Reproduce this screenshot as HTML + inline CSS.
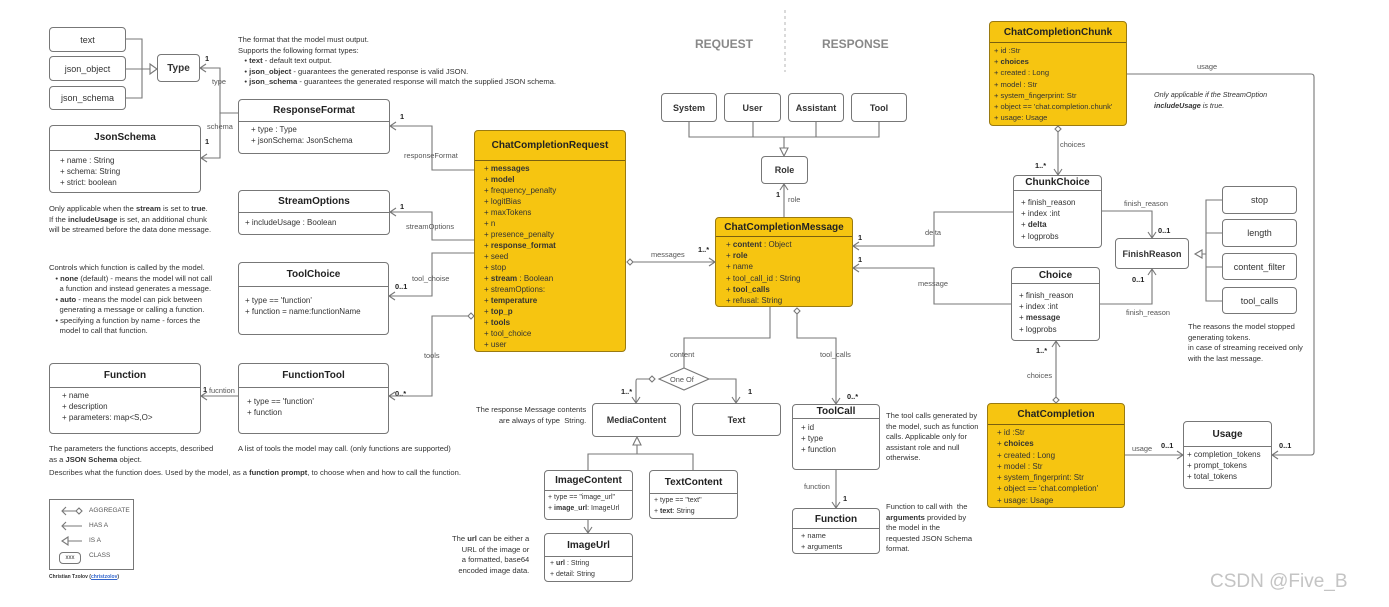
<!DOCTYPE html>
<html><head><meta charset="utf-8"><style>
*{margin:0;padding:0;box-sizing:border-box}
body{width:1389px;height:607px;background:#fff;position:relative;overflow:hidden;font-family:"Liberation Sans",sans-serif;color:#333;font-size:8px}
.b{position:absolute;border:1.2px solid #777;border-radius:4px;background:#fff}
.y{background:#f6c511;border-color:#9a7a10}
.h{font-weight:bold;font-size:10px;text-align:center;border-bottom:1.2px solid #777;color:#222}
.y .h{border-color:#7a6010}
.a{padding:2px 0 0 6px;line-height:11.2px;font-size:8px}
.c{display:flex;align-items:center;justify-content:center;font-size:9px}
.t{position:absolute;font-size:7.6px;line-height:10.5px;color:#333;white-space:nowrap}
.l{position:absolute;font-size:7.4px;color:#555;background:#fff;white-space:nowrap}
.m{position:absolute;font-size:7.4px;font-weight:bold;color:#222;white-space:nowrap}
svg{position:absolute;left:0;top:0;z-index:2}
</style></head><body>
<svg width="1389" height="607" fill="none" stroke="#777" stroke-width="1.1">
<line x1="785" y1="10" x2="785" y2="72" stroke="#bbb" stroke-dasharray="3,3"/>
<path d="M126,39 H142 V98 H126 M126,69 H150 M142,69 h2"/>
<path d="M150,64 L157,69 L150,74 Z"/>
<path d="M238,113 H220 V68 H200 M206,64 L200,68 L206,72"/>
<path d="M238,113 H220 V158 H201 M207,154 L201,158 L207,162"/>
<path d="M474,170 H432 V126 H390 M396,122 L390,126 L396,130"/>
<path d="M474,240 H432 V212 H390 M396,208 L390,212 L396,216"/>
<path d="M474,253 H432 V296 H389 M395,292 L389,296 L395,300"/>
<path d="M468,316 H432 V396 H389 M395,392 L389,396 L395,400"/>
<path d="M468,316 l3,-3 l3,3 l-3,3 z" fill="#fff"/>
<path d="M238,396 H201 M207,392 L201,396 L207,400"/>
<path d="M633,262 H715 M709,258 L715,262 L709,266"/>
<path d="M627,262 l3,-3 l3,3 l-3,3 z" fill="#fff"/>
<path d="M689,122 V137 H879 V122 M753,122 V137 M816,122 V137 M784,137 V148"/>
<path d="M780,148 L788,148 L784,156 Z" fill="#fff"/>
<path d="M784,217 V184 M780,190 L784,184 L788,190"/>
<path d="M770,307 V338 H684 V368"/>
<path d="M659,379 L684,368 L709,379 L684,390 Z"/>
<path d="M655,379 l-3,-3 l-3,3 l3,3 z" fill="#fff"/>
<path d="M649,379 H637 Q636,379 636,382 V403 M632,397 L636,403 L640,397"/>
<path d="M709,379 H736 V403 M732,397 L736,403 L740,397"/>
<path d="M588,470 V454 H693 V470 M637,454 V445"/>
<path d="M633,445 L641,445 L637,437 Z" fill="#fff"/>
<path d="M588,520 V533 M584,527 L588,533 L592,527"/>
<path d="M797,314 V338 H836 V404 M832,398 L836,404 L840,398"/>
<path d="M797,308 l3,3 l-3,3 l-3,-3 z" fill="#fff"/>
<path d="M836,470 V508 M832,502 L836,508 L840,502"/>
<path d="M1013,212 H934 V246 H853 M859,242 L853,246 L859,250"/>
<path d="M1011,304 H934 V268 H853 M859,264 L853,268 L859,272"/>
<path d="M1058,132 V175 M1054,169 L1058,175 L1062,169"/>
<path d="M1058,126 l3,3 l-3,3 l-3,-3 z" fill="#fff"/>
<path d="M1056,341 V397 M1052,347 L1056,341 L1060,347"/>
<path d="M1056,397 l3,3 l-3,3 l-3,-3 z" fill="#fff"/>
<path d="M1102,211 H1152 V238 M1148,232 L1152,238 L1156,232"/>
<path d="M1100,304 H1152 V269 M1148,275 L1152,269 L1156,275"/>
<path d="M1202,254 H1206 M1222,200 H1206 V301 H1222 M1206,233 H1222 M1206,267 H1222"/>
<path d="M1195,254 L1202,250 L1202,258 Z" fill="#fff"/>
<path d="M1125,455 H1183 M1177,451 L1183,455 L1177,459"/>
<path d="M1127,74 H1311 Q1314,74 1314,77 V452 Q1314,455 1311,455 H1272 M1278,451 L1272,455 L1278,459"/>
<path d="M62,511 H76 M66,507 L62,511 L66,515 M76,511 l3,-3 l3,3 l-3,3 z"/>
<path d="M62,526 H82 M66,522 L62,526 L66,530"/>
<path d="M68,541 H82 M68,537 L62,541 L68,545 Z"/>
</svg>

<div class="b c" style="left:49px;top:27px;width:77px;height:25px">text</div>
<div class="b c" style="left:49px;top:56px;width:77px;height:25px">json_object</div>
<div class="b c" style="left:49px;top:86px;width:77px;height:24px">json_schema</div>
<div class="b c" style="left:157px;top:54px;width:43px;height:28px;font-weight:bold;font-size:10px">Type</div>
<div class="m" style="left:205px;top:54px">1</div><div class="l" style="left:212px;top:77px">type</div>
<div class="l" style="left:207px;top:122px">schema</div><div class="m" style="left:205px;top:137px">1</div>

<div class="t" style="left:238px;top:35px">The format that the model must output.<br>Supports the following format types:<br>&nbsp;&nbsp;&nbsp;• <b>text</b> - default text output.<br>&nbsp;&nbsp;&nbsp;• <b>json_object</b> - guarantees the generated response is valid JSON.<br>&nbsp;&nbsp;&nbsp;• <b>json_schema</b> - guarantees the generated response will match the supplied JSON schema.</div>

<div class="b" style="left:238px;top:99px;width:152px;height:55px"><div class="h" style="height:22px;line-height:21px">ResponseFormat</div><div class="a" style="padding-left:12px">+ type : Type<br>+ jsonSchema: JsonSchema</div></div>
<div class="b" style="left:49px;top:125px;width:152px;height:68px"><div class="h" style="height:25px;line-height:24px">JsonSchema</div><div class="a" style="padding-left:10px;padding-top:4px">+ name : String<br>+ schema: String<br>+ strict: boolean</div></div>
<div class="t" style="left:49px;top:204px">Only applicable when the <b>stream</b> is set to <b>true</b>.<br>If the <b>includeUsage</b> is set, an additional chunk<br>will be streamed before the data done message.</div>
<div class="b" style="left:238px;top:190px;width:152px;height:45px"><div class="h" style="height:22px;line-height:21px">StreamOptions</div><div class="a" style="padding-top:4px">+ includeUsage : Boolean</div></div>
<div class="m" style="left:400px;top:112px">1</div><div class="l" style="left:404px;top:151px">responseFormat</div>
<div class="m" style="left:400px;top:202px">1</div><div class="l" style="left:406px;top:222px">streamOptions</div>
<div class="l" style="left:412px;top:274px">tool_choise</div><div class="m" style="left:395px;top:282px">0..1</div>
<div class="l" style="left:424px;top:351px">tools</div><div class="m" style="left:395px;top:389px">0..*</div>

<div class="t" style="left:49px;top:263px">Controls which function is called by the model.<br>&nbsp;&nbsp;&nbsp;• <b>none</b> (default) - means the model will not call<br>&nbsp;&nbsp;&nbsp;&nbsp;&nbsp;a function and instead generates a message.<br>&nbsp;&nbsp;&nbsp;• <b>auto</b> - means the model can pick between<br>&nbsp;&nbsp;&nbsp;&nbsp;&nbsp;generating a message or calling a function.<br>&nbsp;&nbsp;&nbsp;• specifying a function by name - forces the<br>&nbsp;&nbsp;&nbsp;&nbsp;&nbsp;model to call that function.</div>
<div class="b" style="left:238px;top:262px;width:151px;height:73px"><div class="h" style="height:24px;line-height:23px">ToolChoice</div><div class="a" style="padding-top:8px">+ type == 'function'<br>+ function = name:functionName</div></div>

<div class="b" style="left:49px;top:363px;width:152px;height:71px"><div class="h" style="height:24px;line-height:23px">Function</div><div class="a" style="padding-left:12px">+ name<br>+ description<br>+ parameters: map&lt;S,O&gt;</div></div>
<div class="m" style="left:203px;top:385px">1</div><div class="l" style="left:209px;top:386px">fucntion</div>
<div class="b" style="left:238px;top:363px;width:151px;height:71px"><div class="h" style="height:24px;line-height:23px">FunctionTool</div><div class="a" style="padding-left:8px;padding-top:8px">+ type == 'function'<br>+ function</div></div>
<div class="t" style="left:49px;top:444px">The parameters the functions accepts, described<br>as a <b>JSON Schema</b> object.</div>
<div class="t" style="left:238px;top:444px">A list of tools the model may call. (only functions are supported)</div>
<div class="t" style="left:49px;top:468px">Describes what the function does. Used by the model, as a <b>function prompt</b>, to choose when and how to call the function.</div>

<div class="b" style="left:49px;top:499px;width:85px;height:71px;border-radius:0;background:none"></div>
<div class="l" style="left:89px;top:507px;font-size:6.5px">AGGREGATE</div>
<div class="l" style="left:89px;top:522px;font-size:6.5px">HAS A</div>
<div class="l" style="left:89px;top:537px;font-size:6.5px">IS A</div>
<div class="b c" style="left:59px;top:552px;width:22px;height:12px;font-size:6px">xxx</div>
<div class="l" style="left:89px;top:552px;font-size:6.5px">CLASS</div>
<div class="t" style="left:49px;top:572px;font-size:5px;font-weight:bold">Christian Tzolov (<span style="color:#36c;text-decoration:underline">christzolov</span>)</div>

<div style="position:absolute;left:695px;top:37px;font-size:12px;font-weight:bold;color:#888">REQUEST</div>
<div style="position:absolute;left:822px;top:37px;font-size:12px;font-weight:bold;color:#888">RESPONSE</div>

<div class="b y" style="left:474px;top:130px;width:152px;height:222px"><div class="h" style="height:30px;line-height:30px">ChatCompletionRequest</div><div class="a" style="padding-left:9px;line-height:11px">+ <b>messages</b><br>+ <b>model</b><br>+ frequency_penalty<br>+ logitBias<br>+ maxTokens<br>+ n<br>+ presence_penalty<br>+ <b>response_format</b><br>+ seed<br>+ stop<br>+ <b>stream</b> : Boolean<br>+ streamOptions:<br>+ <b>temperature</b><br>+ <b>top_p</b><br>+ <b>tools</b><br>+ tool_choice<br>+ user</div></div>
<div class="l" style="left:651px;top:250px">messages</div><div class="m" style="left:698px;top:245px">1..*</div>

<div class="b c" style="left:661px;top:93px;width:56px;height:29px;font-weight:bold">System</div>
<div class="b c" style="left:724px;top:93px;width:57px;height:29px;font-weight:bold">User</div>
<div class="b c" style="left:788px;top:93px;width:56px;height:29px;font-weight:bold">Assistant</div>
<div class="b c" style="left:851px;top:93px;width:56px;height:29px;font-weight:bold">Tool</div>
<div class="b c" style="left:761px;top:156px;width:47px;height:28px;font-weight:bold">Role</div>
<div class="m" style="left:776px;top:190px">1</div><div class="l" style="left:788px;top:195px">role</div>

<div class="b y" style="left:715px;top:217px;width:138px;height:90px"><div class="h" style="height:19px;line-height:19px">ChatCompletionMessage</div><div class="a" style="padding-left:10px">+ <b>content</b> : Object<br>+ <b>role</b><br>+ name<br>+ tool_call_id : String<br>+ <b>tool_calls</b><br>+ refusal: String</div></div>
<div class="m" style="left:858px;top:233px">1</div><div class="m" style="left:858px;top:255px">1</div>
<div class="l" style="left:670px;top:350px">content</div>
<div class="l" style="left:820px;top:350px">tool_calls</div>
<div class="l" style="left:670px;top:375px;background:none;z-index:3">One Of</div>
<div class="m" style="left:621px;top:387px">1..*</div><div class="m" style="left:748px;top:387px">1</div>
<div class="t" style="left:476px;top:405px;text-align:right">The response Message contents<br>&nbsp;&nbsp;&nbsp;&nbsp;&nbsp;&nbsp;&nbsp;&nbsp;&nbsp;are always of type&nbsp; String.</div>
<div class="b c" style="left:592px;top:403px;width:89px;height:34px;font-weight:bold">MediaContent</div>
<div class="b c" style="left:692px;top:403px;width:89px;height:33px;font-weight:bold">Text</div>
<div class="b" style="left:544px;top:470px;width:89px;height:50px"><div class="h" style="height:20px;line-height:20px">ImageContent</div><div class="a" style="padding-left:3px;font-size:7px;line-height:10.5px">+ type == "image_url"<br>+ <b>image_url</b>: ImageUrl</div></div>
<div class="b" style="left:649px;top:470px;width:89px;height:49px"><div class="h" style="height:23px;line-height:23px">TextContent</div><div class="a" style="padding-left:4px;font-size:7px;line-height:10.5px">+ type == "text"<br>+ <b>text</b>: String</div></div>
<div class="b" style="left:544px;top:533px;width:89px;height:49px"><div class="h" style="height:23px;line-height:23px">ImageUrl</div><div class="a" style="padding-left:5px;font-size:7px;line-height:10.5px">+ <b>url</b> : String<br>+ detail: String</div></div>
<div class="t" style="left:452px;top:534px;text-align:right">The <b>url</b> can be either a<br>URL of the image or<br>a formatted, base64<br>encoded image data.</div>

<div class="m" style="left:847px;top:392px">0..*</div>
<div class="b" style="left:792px;top:404px;width:88px;height:66px"><div class="h" style="height:14px;line-height:13px">ToolCall</div><div class="a" style="padding-left:8px;padding-top:3px">+ id<br>+ type<br>+ function</div></div>
<div class="t" style="left:886px;top:411px">The tool calls generated by<br>the model, such as function<br>calls. Applicable only for<br>assistant role and null<br>otherwise.</div>
<div class="l" style="left:804px;top:482px">function</div><div class="m" style="left:843px;top:494px">1</div>
<div class="b" style="left:792px;top:508px;width:88px;height:46px"><div class="h" style="height:20px;line-height:22px">Function</div><div class="a" style="padding-left:8px;font-size:7.4px;line-height:10.5px">+ name<br>+ arguments</div></div>
<div class="t" style="left:886px;top:502px">Function to call with&nbsp; the<br><b>arguments</b> provided by<br>the model in the<br>requested JSON Schema<br>format.</div>

<div class="b y" style="left:989px;top:21px;width:138px;height:105px"><div class="h" style="height:21px;line-height:21px">ChatCompletionChunk</div><div class="a" style="padding-left:4px;font-size:7.6px;line-height:11.2px">+ id :Str<br>+ <b>choices</b><br>+ created : Long<br>+ model : Str<br>+ system_fingerprint: Str<br>+ object == 'chat.completion.chunk'<br>+ usage: Usage</div></div>
<div class="l" style="left:1197px;top:62px">usage</div>
<div class="t" style="left:1154px;top:90px;font-style:italic;font-size:7.2px">Only applicable if the StreamOption<br><b>includeUsage</b> is true.</div>
<div class="l" style="left:1060px;top:140px">choices</div><div class="m" style="left:1035px;top:161px">1..*</div>
<div class="b" style="left:1013px;top:175px;width:89px;height:73px"><div class="h" style="height:15px;line-height:14px">ChunkChoice</div><div class="a" style="padding-left:7px;padding-top:6px">+ finish_reason<br>+ index :int<br>+ <b>delta</b><br>+ logprobs</div></div>
<div class="l" style="left:925px;top:228px">delta</div>
<div class="l" style="left:918px;top:279px">message</div>
<div class="b" style="left:1011px;top:267px;width:89px;height:74px"><div class="h" style="height:16px;line-height:15px">Choice</div><div class="a" style="padding-left:7px;padding-top:6px">+ finish_reason<br>+ index :int<br>+ <b>message</b><br>+ logprobs</div></div>
<div class="m" style="left:1036px;top:346px">1..*</div><div class="l" style="left:1027px;top:371px">choices</div>
<div class="l" style="left:1124px;top:199px">finish_reason</div><div class="m" style="left:1158px;top:226px">0..1</div>
<div class="m" style="left:1132px;top:275px">0..1</div><div class="l" style="left:1126px;top:308px">finish_reason</div>
<div class="b c" style="left:1115px;top:238px;width:74px;height:31px;font-weight:bold">FinishReason</div>
<div class="b c" style="left:1222px;top:186px;width:75px;height:28px">stop</div>
<div class="b c" style="left:1222px;top:219px;width:75px;height:28px">length</div>
<div class="b c" style="left:1222px;top:253px;width:75px;height:27px">content_filter</div>
<div class="b c" style="left:1222px;top:287px;width:75px;height:27px">tool_calls</div>
<div class="t" style="left:1188px;top:322px">The reasons the model stopped<br>generating tokens.<br>in case of streaming received only<br>with the last message.</div>

<div class="b y" style="left:987px;top:403px;width:138px;height:105px"><div class="h" style="height:21px;line-height:21px">ChatCompletion</div><div class="a" style="padding-left:9px;line-height:11.3px">+ id :Str<br>+ <b>choices</b><br>+ created : Long<br>+ model : Str<br>+ system_fingerprint: Str<br>+ object == 'chat.completion'<br>+ usage: Usage</div></div>
<div class="l" style="left:1132px;top:444px">usage</div><div class="m" style="left:1161px;top:441px">0..1</div>
<div class="m" style="left:1279px;top:441px">0..1</div>
<div class="b" style="left:1183px;top:421px;width:89px;height:68px"><div class="h" style="height:25px;line-height:25px">Usage</div><div class="a" style="padding-left:3px">+ completion_tokens<br>+ prompt_tokens<br>+ total_tokens</div></div>

<div style="position:absolute;left:1210px;top:571px;font-size:19px;color:#c4c4c4">CSDN @Five_B</div>
</body></html>
